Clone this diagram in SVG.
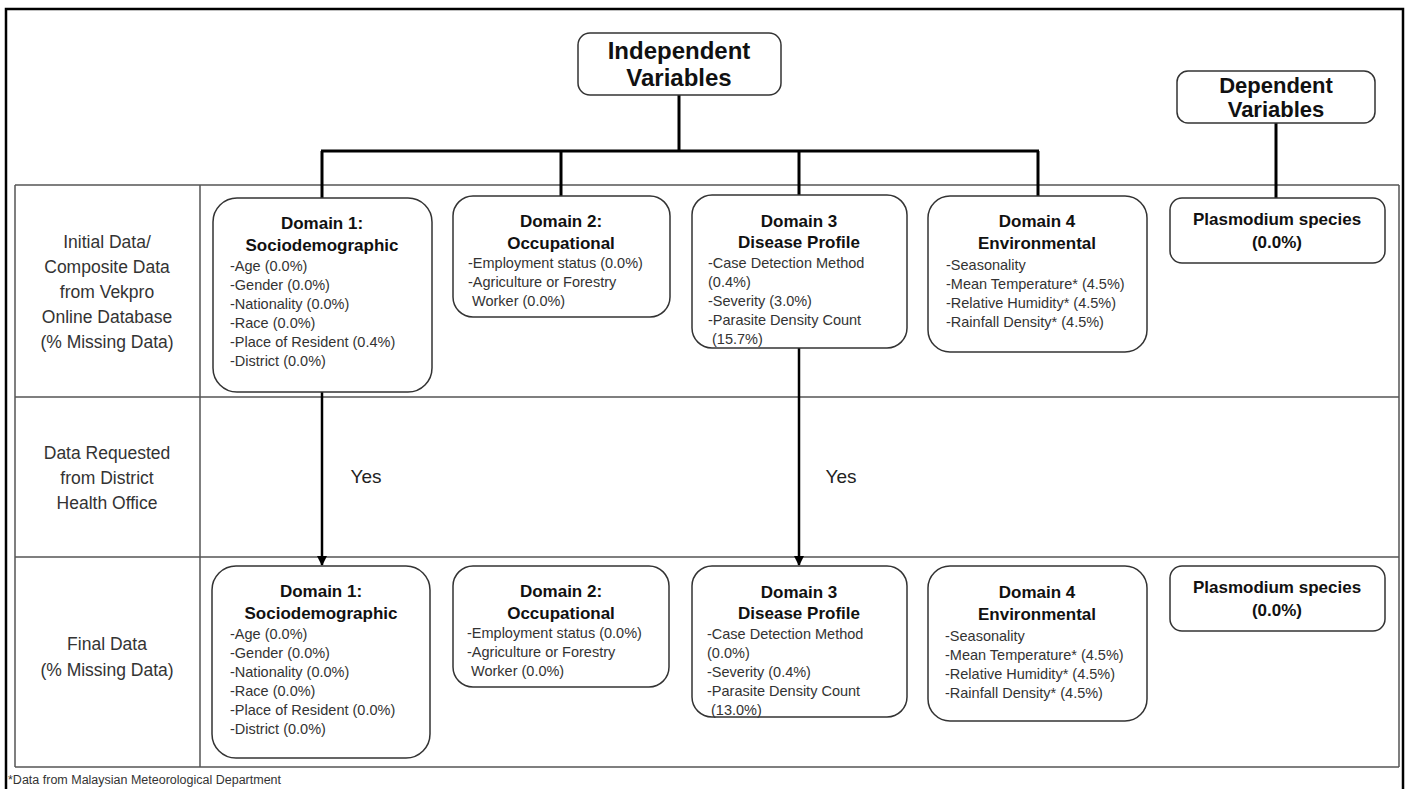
<svg xmlns="http://www.w3.org/2000/svg" width="1409" height="789" viewBox="0 0 1409 789">
<style>
.frame{fill:none;stroke:#000;stroke-width:2.5}
.grid{fill:none;stroke:#555;stroke-width:1.5}
.box{fill:#fff;stroke:#333;stroke-width:1.5}
.conn{fill:none;stroke:#000;stroke-width:3}
.arr{fill:none;stroke:#000;stroke-width:2.5}
text{font-family:"Liberation Sans",Arial,sans-serif}
.hdr{font-size:24px;font-weight:bold;fill:#111;text-anchor:middle}
.hdr2{font-size:22px;font-weight:bold;fill:#111;text-anchor:middle}
.ttl{font-size:17px;font-weight:bold;fill:#111;text-anchor:middle}
.itm{font-size:14.5px;fill:#333}
.row{font-size:17.5px;fill:#333;text-anchor:middle}
.yes{font-size:19px;fill:#222;text-anchor:middle}
.note{font-size:12.5px;fill:#333}
</style>
<defs>
<marker id="ah" markerUnits="userSpaceOnUse" markerWidth="10" markerHeight="10" refX="9" refY="5" orient="auto">
<path d="M0,0 L10,5 L0,10 z" fill="#000"/>
</marker>
</defs>
<rect class="frame" x="6" y="9" width="1397" height="800"/>
<g id="table">
<line class="grid" x1="15" y1="185" x2="1399" y2="185"/>
<line class="grid" x1="15" y1="397" x2="1399" y2="397"/>
<line class="grid" x1="15" y1="557" x2="1399" y2="557"/>
<line class="grid" x1="15" y1="767" x2="1399" y2="767"/>
<line class="grid" x1="15" y1="185" x2="15" y2="767"/>
<line class="grid" x1="200" y1="185" x2="200" y2="767"/>
<line class="grid" x1="1399" y1="185" x2="1399" y2="767"/>
</g>
<g id="row-labels">
<text class="row" x="107" y="248">Initial Data/</text>
<text class="row" x="107" y="273">Composite Data</text>
<text class="row" x="107" y="298">from Vekpro</text>
<text class="row" x="107" y="323">Online Database</text>
<text class="row" x="107" y="348">(% Missing Data)</text>
<text class="row" x="107" y="459">Data Requested</text>
<text class="row" x="107" y="484">from District</text>
<text class="row" x="107" y="509">Health Office</text>
<text class="row" x="107" y="650">Final Data</text>
<text class="row" x="107" y="676">(% Missing Data)</text>
</g>
<g id="connectors">
<line class="conn" x1="679" y1="95" x2="679" y2="151"/>
<line class="conn" x1="321" y1="151" x2="1039" y2="151"/>
<line class="conn" x1="322" y1="151" x2="322" y2="198"/>
<line class="conn" x1="561" y1="151" x2="561" y2="196"/>
<line class="conn" x1="799" y1="151" x2="799" y2="195"/>
<line class="conn" x1="1038" y1="151" x2="1038" y2="196"/>
<line class="conn" x1="1276" y1="123" x2="1276" y2="198"/>
<line class="arr" x1="322" y1="392" x2="322" y2="565" marker-end="url(#ah)"/>
<line class="arr" x1="799" y1="348" x2="799" y2="565" marker-end="url(#ah)"/>
<text class="yes" x="366" y="483">Yes</text>
<text class="yes" x="841" y="483">Yes</text>
</g>
<g id="independent">
<rect class="box" x="578" y="33" width="203" height="62" rx="12"/>
<text class="hdr" x="679" y="59">Independent</text>
<text class="hdr" x="679" y="86">Variables</text>
</g>
<g id="dependent">
<rect class="box" x="1177" y="71" width="198" height="52" rx="11"/>
<text class="hdr2" x="1276" y="93">Dependent</text>
<text class="hdr2" x="1276" y="117">Variables</text>
</g>
<g id="d1-initial">
<rect class="box" x="213" y="198" width="219" height="194" rx="24"/>
<text class="ttl" x="322" y="229">Domain 1:</text>
<text class="ttl" x="322" y="251">Sociodemographic</text>
<text class="itm" x="230" y="271">-Age (0.0%)</text>
<text class="itm" x="230" y="290">-Gender (0.0%)</text>
<text class="itm" x="230" y="309">-Nationality (0.0%)</text>
<text class="itm" x="230" y="328">-Race (0.0%)</text>
<text class="itm" x="230" y="347">-Place of Resident (0.4%)</text>
<text class="itm" x="230" y="366">-District (0.0%)</text>
</g>
<g id="d2-initial">
<rect class="box" x="453" y="196" width="217" height="121" rx="20"/>
<text class="ttl" x="561" y="227">Domain 2:</text>
<text class="ttl" x="561" y="249">Occupational</text>
<text class="itm" x="468" y="268">-Employment status (0.0%)</text>
<text class="itm" x="468" y="287">-Agriculture or Forestry</text>
<text class="itm" x="472" y="306">Worker (0.0%)</text>
</g>
<g id="d3-initial">
<rect class="box" x="692" y="195" width="215" height="153" rx="20"/>
<text class="ttl" x="799" y="227">Domain 3</text>
<text class="ttl" x="799" y="248">Disease Profile</text>
<text class="itm" x="708" y="268">-Case Detection Method</text>
<text class="itm" x="708" y="287">(0.4%)</text>
<text class="itm" x="708" y="306">-Severity (3.0%)</text>
<text class="itm" x="708" y="325">-Parasite Density Count</text>
<text class="itm" x="712" y="344">(15.7%)</text>
</g>
<g id="d4-initial">
<rect class="box" x="928" y="196" width="219" height="156" rx="22"/>
<text class="ttl" x="1037" y="227">Domain 4</text>
<text class="ttl" x="1037" y="249">Environmental</text>
<text class="itm" x="946" y="270">-Seasonality</text>
<text class="itm" x="946" y="289">-Mean Temperature* (4.5%)</text>
<text class="itm" x="946" y="308">-Relative Humidity* (4.5%)</text>
<text class="itm" x="946" y="327">-Rainfall Density* (4.5%)</text>
</g>
<g id="plasmodium-initial">
<rect class="box" x="1170" y="198" width="215" height="65" rx="12"/>
<text class="ttl" x="1277" y="225">Plasmodium species</text>
<text class="ttl" x="1277" y="248">(0.0%)</text>
</g>
<g id="d1-final">
<rect class="box" x="212" y="566" width="218" height="192" rx="24"/>
<text class="ttl" x="321" y="597">Domain 1:</text>
<text class="ttl" x="321" y="619">Sociodemographic</text>
<text class="itm" x="230" y="639">-Age (0.0%)</text>
<text class="itm" x="230" y="658">-Gender (0.0%)</text>
<text class="itm" x="230" y="677">-Nationality (0.0%)</text>
<text class="itm" x="230" y="696">-Race (0.0%)</text>
<text class="itm" x="230" y="715">-Place of Resident (0.0%)</text>
<text class="itm" x="230" y="734">-District (0.0%)</text>
</g>
<g id="d2-final">
<rect class="box" x="453" y="566" width="216" height="121" rx="20"/>
<text class="ttl" x="561" y="597">Domain 2:</text>
<text class="ttl" x="561" y="619">Occupational</text>
<text class="itm" x="467" y="638">-Employment status (0.0%)</text>
<text class="itm" x="467" y="657">-Agriculture or Forestry</text>
<text class="itm" x="471" y="676">Worker (0.0%)</text>
</g>
<g id="d3-final">
<rect class="box" x="692" y="566" width="215" height="151" rx="20"/>
<text class="ttl" x="799" y="598">Domain 3</text>
<text class="ttl" x="799" y="619">Disease Profile</text>
<text class="itm" x="707" y="639">-Case Detection Method</text>
<text class="itm" x="707" y="658">(0.0%)</text>
<text class="itm" x="707" y="677">-Severity (0.4%)</text>
<text class="itm" x="707" y="696">-Parasite Density Count</text>
<text class="itm" x="711" y="715">(13.0%)</text>
</g>
<g id="d4-final">
<rect class="box" x="928" y="566" width="219" height="155" rx="22"/>
<text class="ttl" x="1037" y="598">Domain 4</text>
<text class="ttl" x="1037" y="620">Environmental</text>
<text class="itm" x="945" y="641">-Seasonality</text>
<text class="itm" x="945" y="660">-Mean Temperature* (4.5%)</text>
<text class="itm" x="945" y="679">-Relative Humidity* (4.5%)</text>
<text class="itm" x="945" y="698">-Rainfall Density* (4.5%)</text>
</g>
<g id="plasmodium-final">
<rect class="box" x="1170" y="566" width="215" height="65" rx="12"/>
<text class="ttl" x="1277" y="593">Plasmodium species</text>
<text class="ttl" x="1277" y="616">(0.0%)</text>
</g>
<text class="note" x="8" y="784">*Data from Malaysian Meteorological Department</text>
</svg>
